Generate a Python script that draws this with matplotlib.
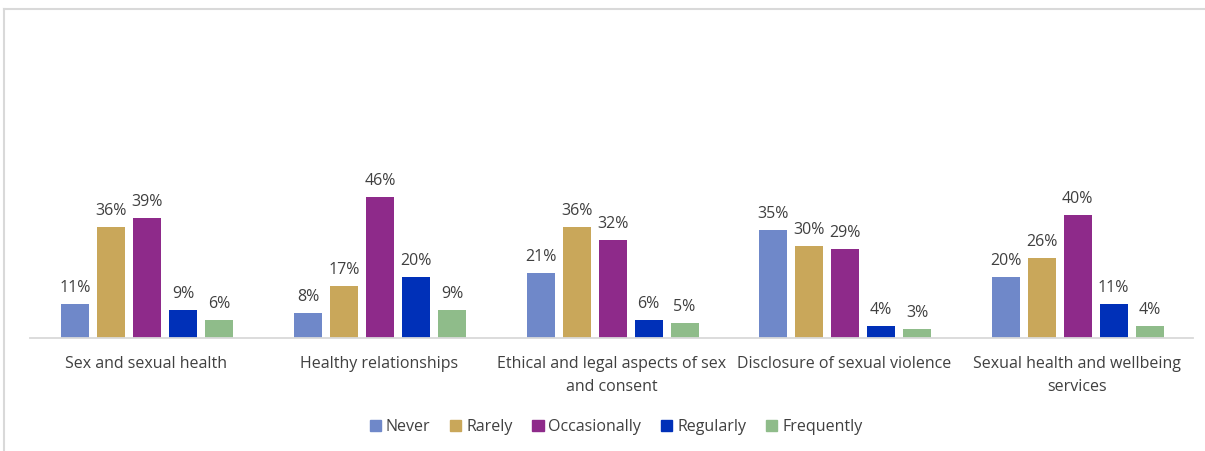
import matplotlib
matplotlib.use("Agg")
import matplotlib.pyplot as plt
from matplotlib.lines import Line2D
import numpy as np

plt.rcParams['font.family'] = ['Open Sans', 'DejaVu Sans']

categories = [
    "Sex and sexual health",
    "Healthy relationships",
    "Ethical and legal aspects of sex\nand consent",
    "Disclosure of sexual violence",
    "Sexual health and wellbeing\nservices",
]
series_names = ["Never", "Rarely", "Occasionally", "Regularly", "Frequently"]
never = [11, 8, 21, 35, 20]
rarely = [36, 17, 36, 30, 26]
occasionally = [39, 46, 32, 29, 40]
regularly = [9, 20, 6, 4, 11]
frequently = [6, 9, 5, 3, 4]
colors = ["#6f88c9", "#c9a75a", "#8e2a8a", "#0030b8", "#8fbc8a"]

series = [never, rarely, occasionally, regularly, frequently]
text_color = "#404040"

fig = plt.figure(figsize=(12.05, 4.51), dpi=100)
ax = fig.add_axes([30 / 1205, 113 / 451, 1163 / 1205, 235 / 451])

x = np.arange(len(categories))
step = 36 / 232.6
width = 28 / 232.6
for i, (name, vals, c) in enumerate(zip(series_names, series, colors)):
    pos = x + (i - 2) * step + 1 / 232.6
    bars = ax.bar(pos, vals, width=width, color=c, label=name, zorder=2)
    for b, v in zip(bars, vals):
        ax.text(b.get_x() + b.get_width() / 2, v + 2.6, f"{v}%",
                ha="center", va="bottom", fontsize=11.5, color=text_color)

ax.set_xlim(-0.5, len(categories) - 0.5)
ax.set_ylim(0, 235 / 3.075)
ax.set_yticks([])
ax.set_xticks(x)
ax.set_xticklabels(categories, fontsize=11.5, color=text_color, linespacing=1.55)
ax.tick_params(axis="x", length=0, pad=13)
for s in ["top", "right", "left"]:
    ax.spines[s].set_visible(False)
ax.spines["bottom"].set_color("#d9d9d9")
ax.spines["bottom"].set_linewidth(1.3)

handles = [plt.Rectangle((0, 0), 1, 1, color=c) for c in colors]
leg = fig.legend(handles, series_names, loc="center", bbox_to_anchor=(616 / 1205, 1 - 427 / 451),
                 ncol=5, frameon=False, fontsize=11.5, handlelength=0.7, handleheight=0.7,
                 handletextpad=0.3, columnspacing=1.25)
for t in leg.get_texts():
    t.set_color(text_color)

# outer frame
fig.add_artist(Line2D([3.5 / 1205, 1], [1 - 8.5 / 451, 1 - 8.5 / 451], color="#d9d9d9", lw=1.5,
                      transform=fig.transFigure))
fig.add_artist(Line2D([3.5 / 1205, 3.5 / 1205], [0, 1 - 8.5 / 451], color="#d9d9d9", lw=1.5,
                      transform=fig.transFigure))

fig.savefig("out.png", dpi=100)
